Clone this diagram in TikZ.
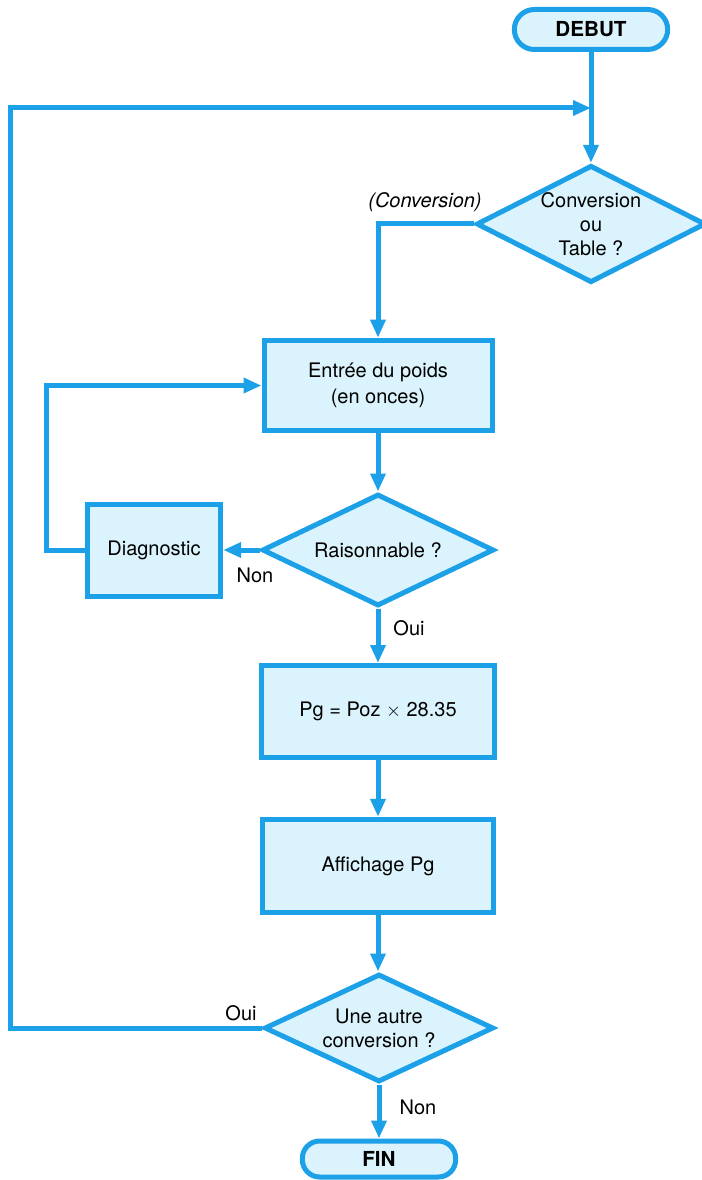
\documentclass[tikz,border=0pt]{standalone}
\usepackage{fontspec}
\setmainfont{TeX Gyre Heros}
\usetikzlibrary{arrows.meta,shapes.geometric}
\definecolor{fc}{RGB}{28,160,232}
\definecolor{fillc}{RGB}{218,243,252}
\tikzset{
  base/.style={draw=fc, line width=3.75pt, fill=fillc, font=\fontsize{15}{19.5}\selectfont, align=center, inner sep=0pt},
  procbox/.style={base, rectangle, line join=miter},
  termbox/.style={base, rectangle, rounded corners=15pt, font=\fontsize{15.5}{19}\selectfont\bfseries},
  decbox/.style={base, diamond, line join=miter},
  conn/.style={draw=fc, line width=3.75pt, line join=miter, -{Triangle[length=13.5pt,width=11pt]}},
  plain/.style={draw=fc, line width=3.75pt, line join=miter},
  lbl/.style={font=\fontsize{15}{17}\selectfont, inner sep=0pt}
}
\begin{document}
\begin{tikzpicture}[x=0.75pt,y=-0.75pt]
\useasboundingbox (0,0) rectangle (701,1180);
% nodes
\node[termbox, minimum width=115pt, minimum height=30pt] (debut) at (591,29.5) {DEBUT};
\node[decbox, minimum width=172pt, minimum height=88pt, aspect=1.9, font=\fontsize{15}{18}\selectfont] (conv) at (591,224) {Conversion\\ou\\Table ?};
\node[procbox, minimum width=171pt, minimum height=68pt] (entree) at (378,385.5) {Entrée du poids\\(en onces)};
\node[decbox, minimum width=174pt, minimum height=84pt, aspect=2] (rais) at (378,550) {Raisonnable ?};
\node[procbox, minimum width=100pt, minimum height=69pt] (diag) at (154,550) {Diagnostic};
\node[procbox, minimum width=175pt, minimum height=69pt] (pg) at (378,711.5) {Pg = Poz $\times$ 28.35};
\node[procbox, minimum width=173pt, minimum height=70pt] (aff) at (378,866) {Affichage Pg};
\node[decbox, minimum width=172pt, minimum height=81pt, aspect=2, font=\fontsize{15}{18}\selectfont] (une) at (379,1028) {Une autre\\conversion ?};
\node[termbox, minimum width=115pt, minimum height=27pt, rounded corners=13pt] (fin) at (379,1159) {FIN};
% coordinates
\coordinate (join) at (591,108);
\coordinate (lx) at (10,108);
\coordinate (dl) at (46,550);
% connectors
\draw[plain] (debut.south) -- (join);
\draw[conn] (join) -- (conv.north);
\draw[conn] (une.west) -| (lx) -- (join);
\draw[conn] (conv.west) -| (entree.north);
\draw[conn] (entree.south) -- (rais.north);
\draw[conn] (rais.west) -- (diag.east);
\draw[conn] (diag.west) -- (dl) |- (entree.west);
\draw[conn] (rais.south) -- (pg.north);
\draw[conn] (pg.south) -- (aff.north);
\draw[conn] (aff.south) -- (aff.south |- une.north);
\draw[conn] (une.south) -- (fin.north);
% labels
\node[lbl, font=\fontsize{15}{17}\selectfont\itshape] (lconv) at (425,202) {(Conversion)};
\node[lbl] (lnon1) at (255,575) {Non};
\node[lbl] (loui1) at (409,628) {Oui};
\node[lbl] (loui2) at (241,1013) {Oui};
\node[lbl] (lnon2) at (418,1107) {Non};
\end{tikzpicture}
\end{document}
